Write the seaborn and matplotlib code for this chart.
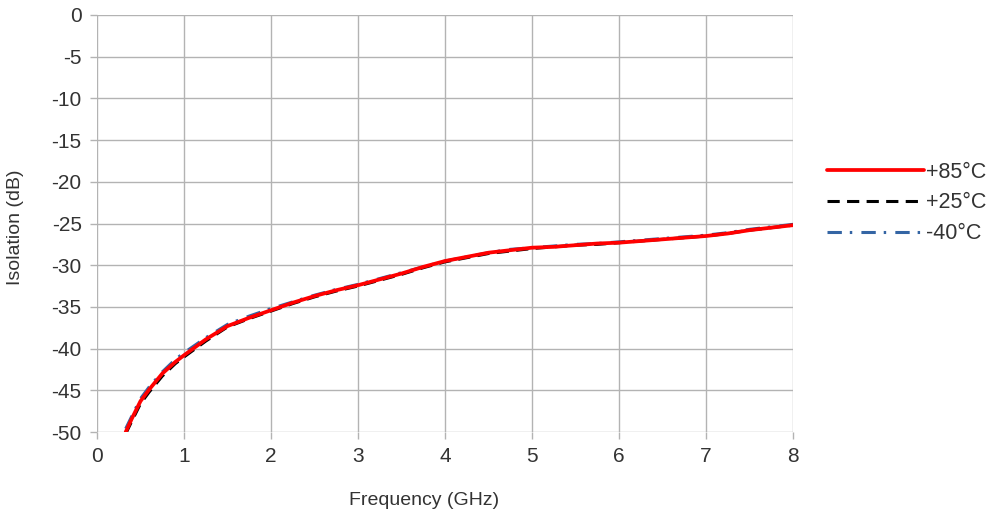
import matplotlib
matplotlib.use("Agg")
import matplotlib.pyplot as plt
import seaborn as sns

# frequency points (GHz) and isolation (dB)
freq = [0.33, 0.4, 0.5, 0.6, 0.75, 0.9, 1.0, 1.25, 1.5, 1.75, 2.0, 2.25, 2.5, 2.75,
        3.0, 3.25, 3.5, 3.75, 4.0, 4.25, 4.5, 4.75, 5.0, 5.25, 5.5, 5.75, 6.0,
        6.25, 6.5, 6.75, 7.0, 7.25, 7.5, 7.75, 8.0]
iso_85 = [-50.0, -48.4, -46.3, -44.9, -43.0, -41.6, -40.8, -38.9, -37.3, -36.3, -35.4,
          -34.5, -33.7, -33.0, -32.4, -31.7, -31.0, -30.2, -29.5, -29.0, -28.5, -28.2,
          -27.9, -27.8, -27.6, -27.4, -27.3, -27.1, -26.9, -26.7, -26.5, -26.2, -25.8,
          -25.5, -25.2]
iso_25 = [-50.2, -48.7, -46.6, -45.2, -43.3, -41.8, -41.0, -39.1, -37.4, -36.4, -35.5,
          -34.6, -33.8, -33.1, -32.5, -31.8, -31.1, -30.3, -29.6, -29.1, -28.6, -28.3,
          -28.0, -27.8, -27.6, -27.5, -27.3, -27.1, -26.9, -26.7, -26.5, -26.2, -25.8,
          -25.5, -25.2]
iso_m40 = [-49.6, -48.1, -46.0, -44.6, -42.8, -41.3, -40.5, -38.7, -37.1, -36.1, -35.2,
           -34.4, -33.6, -32.9, -32.3, -31.6, -30.9, -30.2, -29.5, -29.0, -28.5, -28.1,
           -27.9, -27.7, -27.5, -27.4, -27.2, -27.0, -26.8, -26.6, -26.4, -26.1, -25.7,
           -25.4, -25.1]
series_names = ["+85°C", "+25°C", "-40°C"]

sns.set_theme(style="white")
plt.rcParams["font.family"] = ["Liberation Sans", "DejaVu Sans"]
plt.rcParams["axes.unicode_minus"] = False

fig = plt.figure(figsize=(9.94, 5.14), dpi=100)
ax = fig.add_axes([97 / 994, 1 - 432 / 514, (793 - 97) / 994, (432 - 15) / 514])

# draw back to front: -40 first, +85 on top
sns.lineplot(x=freq, y=iso_m40, ax=ax, color="#3465a4", lw=2.2,
             linestyle=(0, (4.7, 2.6, 0.8, 3.0)), label=series_names[2])
sns.lineplot(x=freq, y=iso_25, ax=ax, color="black", lw=2.2,
             linestyle=(0, (4.0, 2.4)), label=series_names[1])
sns.lineplot(x=freq, y=iso_85, ax=ax, color="#ff0000", lw=2.7,
             linestyle="-", label=series_names[0])

ax.set_xlim(0, 8)
ax.set_ylim(-50, 0)
ax.set_xticks(range(0, 9))
ax.set_yticks(range(-50, 1, 5))
ax.grid(True, color="#b3b3b3", lw=1)
for s in ax.spines.values():
    s.set_visible(False)
ax.tick_params(axis="both", which="both", length=5, width=1, color="#b3b3b3",
               labelsize=15, labelcolor="#333333", direction="out", pad=6,
               bottom=True, left=True)
ax.set_xlabel("Frequency (GHz)", fontsize=14, color="#333333")
ax.xaxis.set_label_coords(0.47, -0.143)
ax.set_ylabel("Isolation (dB)", fontsize=14, color="#333333")
ax.yaxis.set_label_coords(-0.105, 0.49)

handles, labels = ax.get_legend_handles_labels()
order = [labels.index(n) for n in series_names]
ax.legend([handles[i] for i in order], [labels[i] for i in order],
          loc="center left", bbox_to_anchor=(827 / 994, 1 - 203 / 514),
          bbox_transform=fig.transFigure, borderaxespad=0, borderpad=0,
          frameon=False, fontsize=15.5, handlelength=4.5, handletextpad=0.1,
          labelspacing=0.45, labelcolor="#333333")

fig.savefig("out.png", dpi=100)
